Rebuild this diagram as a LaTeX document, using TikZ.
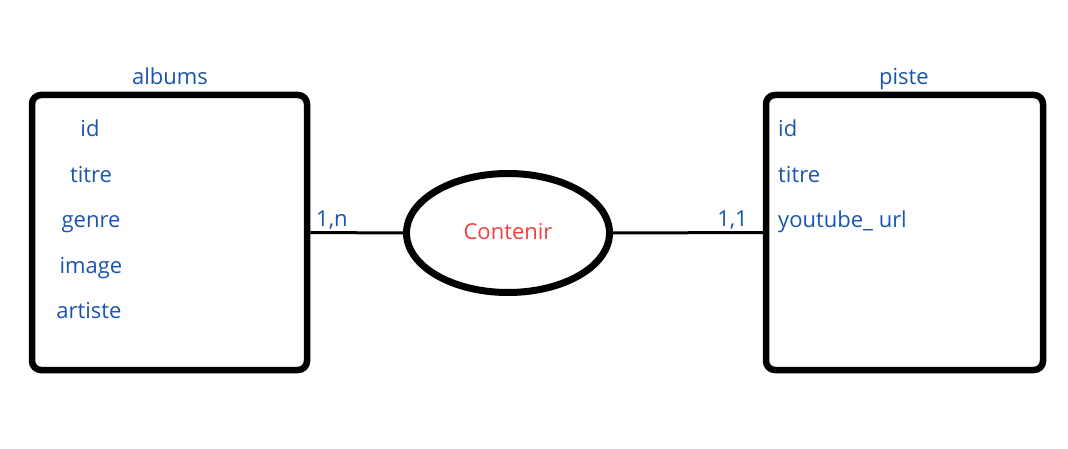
\documentclass[tikz,border=0pt]{standalone}
\usepackage{fontspec}
\setmainfont{Open Sans}
\usetikzlibrary{shapes.geometric}
\definecolor{txtblue}{RGB}{26,84,172}
\definecolor{txtred}{RGB}{240,64,64}
\tikzset{
  entity/.style={draw=black, line width=6.5pt, rounded corners=9pt, minimum height=275pt, inner sep=0pt},
  assoc/.style={draw=black, ellipse, line width=7pt, minimum width=203pt, minimum height=119pt, inner sep=0pt},
  link/.style={draw=black, line width=3pt},
  attr/.style={text=txtblue, font=\fontsize{22}{26}\selectfont, anchor=base, inner sep=0pt},
  attrl/.style={attr, anchor=base west},
  card/.style={attr},
  title/.style={attr},
}
\begin{document}
\begin{tikzpicture}[x=1pt,y=-1pt]
\useasboundingbox (0,0) rectangle (1068,449);
\node[entity, minimum width=275pt] (albums) at (169.5,232.5) {};
\node[entity, minimum width=277pt] (piste) at (904.5,232.5) {};
\node[assoc] (contenir) at (508,233) {};
\node[attr, text=txtred] (contenirlbl) at (508,240) {Contenir};
\draw[link] (albums.east) -- (contenir.west);
\draw[link] (contenir.east) -- (piste.west);
\node[title] (albumslbl) at (170,85) {albums};
\node[title] (pistelbl) at (904,85) {piste};
\node[attr] (a1) at (90,137) {id};
\node[attr] (a2) at (91,183) {titre};
\node[attr] (a3) at (91,228) {genre};
\node[attr] (a4) at (91,273) {image};
\node[attr] (a5) at (89,318) {artiste};
\node[attrl] (p1) at (778,137) {id};
\node[attrl] (p2) at (778,183) {titre};
\node[attrl] (p3) at (778,228) {youtube\_ url};
\node[attrl] (c1) at (316,226) {1,n};
\node[attr, anchor=base east] (c2) at (748,226) {1,1};
\end{tikzpicture}
\end{document}
